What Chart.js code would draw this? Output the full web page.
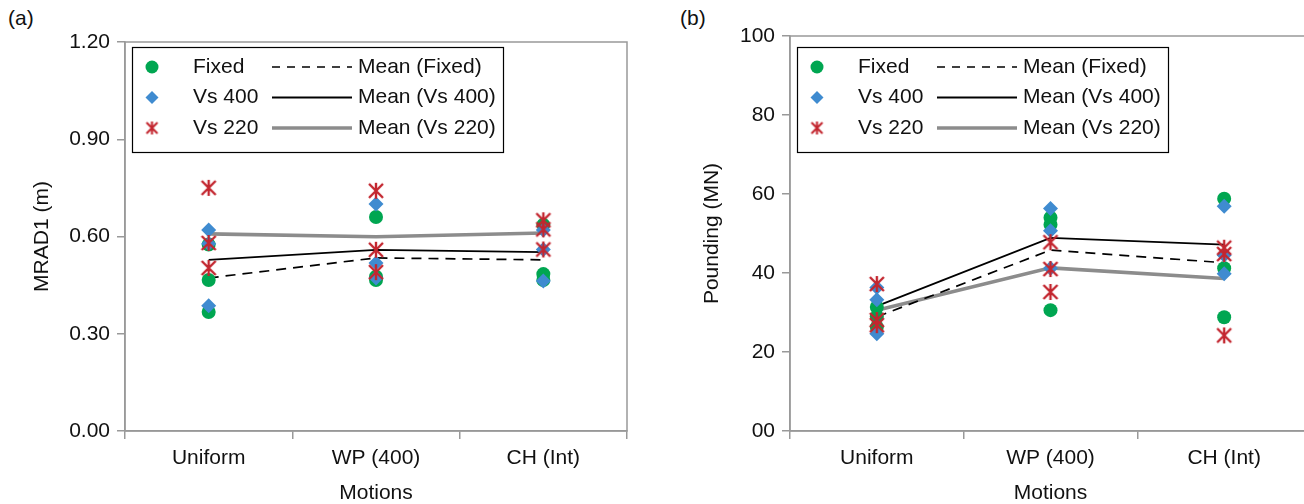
<!DOCTYPE html>
<html>
<head>
<meta charset="utf-8">
<script src="https://cdn.jsdelivr.net/npm/chart.js@4.4.1/dist/chart.umd.min.js"></script>
<style>
  body { margin: 0; width: 1304px; height: 504px; overflow: hidden; position: relative; background: #fff;
         font-family: "Liberation Sans", Arial, sans-serif; }
  .panel { position: absolute; top: 0; }
  .tag { position: absolute; top: 6px; font-size: 21px; color: #111; }
</style>
</head>
<body>
<div class="tag" style="left:8px">(a)</div>
<div class="tag" style="left:680px">(b)</div>
<canvas id="chartA" class="panel" style="left:0" width="640" height="504"></canvas>
<canvas id="chartB" class="panel" style="left:660px" width="660" height="504"></canvas>
<script>
// categories
const motions = ['Uniform', 'WP (400)', 'CH (Int)'];

// (a) MRAD1 (m) - three runs per motion
const mradFixed = [[0.367, 0.466, 0.575], [0.660, 0.476, 0.466], [0.636, 0.484, 0.466]];
const mradVs400 = [[0.386, 0.620, 0.578], [0.700, 0.518, 0.472], [0.620, 0.560, 0.463]];
const mradVs220 = [[0.750, 0.580, 0.503], [0.741, 0.559, 0.490], [0.650, 0.622, 0.560]];
const mradMeanFixed = [0.472, 0.534, 0.528];
const mradMeanVs400 = [0.528, 0.559, 0.552];
const mradMeanVs220 = [0.608, 0.599, 0.611];
const mradTicks = [0, 0.3, 0.6, 0.9, 1.2];

// (b) Pounding (MN)
const poundFixed = [[31.4, 29.0, 26.3], [54.0, 52.2, 30.6], [58.8, 41.2, 28.8]];
const poundVs400 = [[36.3, 33.2, 24.6], [56.3, 50.7, 41.2], [56.9, 39.8, 44.5]];
const poundVs220 = [[37.2, 28.1, 26.8], [47.8, 41.0, 35.2], [46.4, 44.8, 24.2]];
const poundMeanFixed = [28.9, 45.8, 42.6];
const poundMeanVs400 = [31.6, 48.9, 47.2];
const poundMeanVs220 = [30.6, 41.3, 38.6];
const poundTicks = [0, 20, 40, 60, 80, 100];

const FONT = '"Liberation Sans", Arial, sans-serif';
Chart.defaults.font.family = FONT;
Chart.defaults.font.size = 21;
Chart.defaults.color = '#111';

const GREEN = '#00a651', BLUE = '#3f8bd0', RED = '#c3262f', GREY = '#999';

// star-like marker: an X with a vertical bar
function makeStar(size, lw) {
  const c = document.createElement('canvas');
  c.width = size; c.height = size;
  const g = c.getContext('2d');
  g.strokeStyle = RED; g.lineWidth = lw; g.lineCap = 'butt';
  const p = 2, q = size - 2;
  g.beginPath();
  g.moveTo(p, p); g.lineTo(q, q);
  g.moveTo(q, p); g.lineTo(p, q);
  g.moveTo(size / 2, 1); g.lineTo(size / 2, size - 1);
  g.stroke();
  return c;
}
const starPlot = makeStar(18, 2.4);
const starLegend = makeStar(15, 2.1);

function points(rows) {
  return rows.flatMap((vals, i) => vals.map(v => ({ x: motions[i], y: v })));
}

function datasets(fixed, vs400, vs220, mFixed, mVs400, mVs220) {
  return [
    { label: 'Fixed', data: points(fixed), showLine: false, pointStyle: 'circle', pointRadius: 7,
      backgroundColor: GREEN, borderColor: GREEN, pointBorderWidth: 0, order: 2 },
    { label: 'Vs 400', data: points(vs400), showLine: false, pointStyle: 'rectRot', pointRadius: 7.5,
      backgroundColor: BLUE, borderColor: BLUE, pointBorderWidth: 0, order: 1 },
    { label: 'Vs 220', data: points(vs220), showLine: false, pointStyle: starPlot, pointRadius: 8,
      backgroundColor: RED, borderColor: RED, order: 0 },
    { label: 'Mean (Fixed)', data: mFixed, borderColor: '#000', borderWidth: 1.7, borderDash: [10, 7],
      pointRadius: 0, fill: false, order: 3 },
    { label: 'Mean (Vs 400)', data: mVs400, borderColor: '#000', borderWidth: 1.8,
      pointRadius: 0, fill: false, order: 3 },
    { label: 'Mean (Vs 220)', data: mVs220, borderColor: '#8c8c8c', borderWidth: 3.6,
      pointRadius: 0, fill: false, order: 3 }
  ];
}

// grey frame round the plot area
const frame = {
  id: 'frame',
  beforeDatasetsDraw(chart) {
    const a = chart.chartArea, ctx = chart.ctx;
    ctx.save();
    ctx.strokeStyle = GREY; ctx.lineWidth = 1.5;
    ctx.strokeRect(a.left, a.top, a.right - a.left, a.bottom - a.top);
    ctx.restore();
  }
};

// two-column legend in a box
const boxLegend = {
  id: 'boxLegend',
  afterDatasetsDraw(chart, args, opts) {
    const { ctx, chartArea } = chart;
    const ds = chart.data.datasets;
    const x0 = chartArea.left + opts.dx, y0 = opts.top;
    ctx.save();
    ctx.fillStyle = '#fff';
    ctx.fillRect(x0, y0, opts.w, opts.h);
    ctx.strokeStyle = '#000'; ctx.lineWidth = 1.2;
    ctx.strokeRect(x0 + 0.5, y0 + 0.5, opts.w, opts.h);
    ctx.font = '21px ' + FONT;
    ctx.textBaseline = 'middle';
    for (let r = 0; r < 3; r++) {
      const mark = ds[r], line = ds[r + 3];
      const y = y0 + 20 + r * 30.5;
      const mx = x0 + 20;
      ctx.fillStyle = mark.backgroundColor;
      if (mark.pointStyle === 'circle') {
        ctx.beginPath(); ctx.arc(mx, y, 6.5, 0, Math.PI * 2); ctx.fill();
      } else if (mark.pointStyle === 'rectRot') {
        ctx.beginPath();
        ctx.moveTo(mx, y - 6.5); ctx.lineTo(mx + 6.5, y); ctx.lineTo(mx, y + 6.5); ctx.lineTo(mx - 6.5, y);
        ctx.closePath(); ctx.fill();
      } else {
        ctx.drawImage(starLegend, mx - 7.5, y - 7.5);
      }
      ctx.fillStyle = '#111';
      ctx.fillText(mark.label, x0 + 61, y);
      ctx.beginPath();
      ctx.setLineDash(line.borderDash ? [8, 7] : []);
      ctx.strokeStyle = line.borderColor; ctx.lineWidth = line.borderWidth;
      ctx.moveTo(x0 + 140, y); ctx.lineTo(x0 + 220, y); ctx.stroke();
      ctx.setLineDash([]);
      ctx.fillText(line.label, x0 + 226, y);
    }
    ctx.restore();
  }
};

function makeChart(id, sets, yTicks, yFmt, yTitle, yWidth, titlePad, pad) {
  return new Chart(document.getElementById(id), {
    type: 'line',
    data: { labels: motions, datasets: sets },
    plugins: [frame, boxLegend],
    options: {
      responsive: false,
      animation: false,
      events: [],
      layout: { padding: pad },
      plugins: {
        legend: { display: false },
        tooltip: { enabled: false },
        boxLegend: { dx: 7, top: 47, w: 371, h: 105 }
      },
      scales: {
        x: {
          offset: true,
          afterFit(s) { s.height = 73; },
          ticks: { padding: 7, color: '#111' },
          grid: { offset: true, drawOnChartArea: false, tickLength: 8, color: GREY, lineWidth: 1.5 },
          border: { color: GREY, width: 1.5 },
          title: { display: true, text: 'Motions', padding: { top: 0, bottom: -1.5 }, color: '#111' }
        },
        y: {
          min: yTicks[0], max: yTicks[yTicks.length - 1],
          afterFit(s) { s.width = yWidth; },
          afterBuildTicks(s) { s.ticks = yTicks.map(v => ({ value: v })); },
          ticks: { padding: 7, callback: yFmt, color: '#111' },
          grid: { drawOnChartArea: false, tickLength: 8, color: GREY, lineWidth: 1.5 },
          border: { color: GREY, width: 1.5 },
          title: { display: true, text: yTitle, padding: { top: titlePad, bottom: 0 }, color: '#111' }
        }
      }
    }
  });
}

window.onload = function() {
  makeChart('chartA',
    datasets(mradFixed, mradVs400, mradVs220, mradMeanFixed, mradMeanVs400, mradMeanVs220),
    mradTicks, v => Number(v).toFixed(2), 'MRAD1 (m)', 125, 30,
    { top: 42, right: 13, left: 0, bottom: 0 });
  makeChart('chartB',
    datasets(poundFixed, poundVs400, poundVs220, poundMeanFixed, poundMeanVs400, poundMeanVs220),
    poundTicks, v => (v === 0 ? '00' : String(v)), 'Pounding (MN)', 130, 40,
    { top: 36, right: 5, left: 0, bottom: 0 });
};
</script>
</body>
</html>
